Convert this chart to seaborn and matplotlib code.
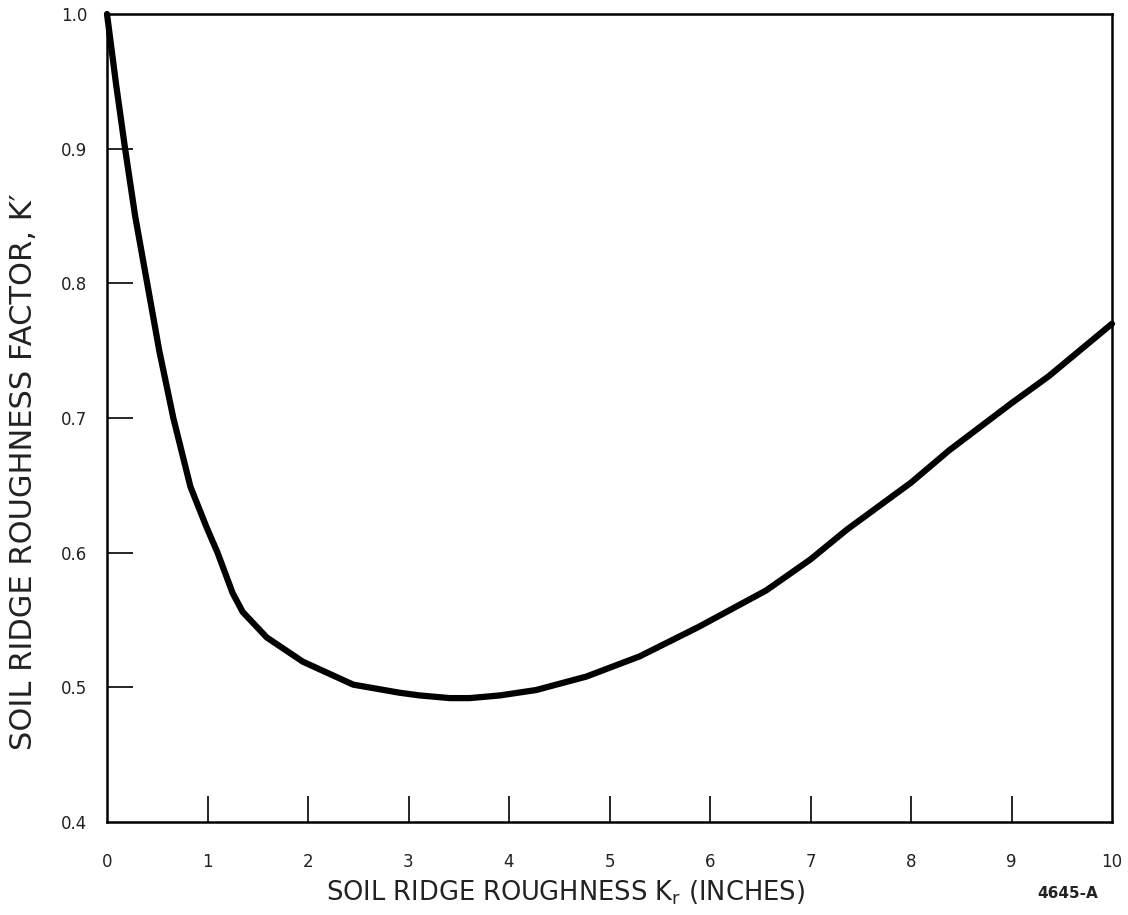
import matplotlib
matplotlib.use("Agg")
import matplotlib.pyplot as plt
import seaborn as sns
import pandas as pd

# Data
ridge_roughness = [0.0, 0.09, 0.18, 0.28, 0.40, 0.52, 0.66, 0.83, 0.99, 1.10, 1.19, 1.25,
                   1.35, 1.59, 1.95, 2.45, 2.91, 3.11, 3.41, 3.61, 3.91,
                   4.27, 4.77, 5.30, 5.89, 6.56, 7.00, 7.36, 8.00, 8.38, 9.00, 9.37, 10.0]
roughness_factor = [1.000, 0.948, 0.900, 0.850, 0.800, 0.750, 0.700, 0.649, 0.619, 0.600, 0.582, 0.570,
                    0.556, 0.537, 0.519, 0.502, 0.496, 0.494, 0.492, 0.492, 0.494,
                    0.498, 0.508, 0.523, 0.545, 0.572, 0.595, 0.617, 0.652, 0.676, 0.711, 0.731, 0.770]
x_ticks = [0, 1, 2, 3, 4, 5, 6, 7, 8, 9, 10]
y_ticks = [0.4, 0.5, 0.6, 0.7, 0.8, 0.9, 1.0]
y_tick_labels = ["0.4", "0.5", "0.6", "0.7", "0.8", "0.9", "1.0"]

df = pd.DataFrame({"x": ridge_roughness, "y": roughness_factor})

sns.set_style("white")
plt.rcParams["font.family"] = ["DejaVu Sans"]

W, H = 1128, 915
fig = plt.figure(figsize=(W / 100, H / 100), dpi=100)
ax = fig.add_axes([107 / W, 1 - 822 / H, (1112 - 107) / W, (822 - 14) / H])

sns.lineplot(data=df, x="x", y="y", ax=ax, color="black", linewidth=4.5,
             solid_capstyle="round", solid_joinstyle="round", clip_on=False)

ax.set_xlim(0, 10)
ax.set_ylim(0.4, 1.0)
ax.set_xticks(x_ticks)
ax.set_xticklabels([str(t) for t in x_ticks])
ax.set_yticks(y_ticks)
ax.set_yticklabels(y_tick_labels)
ax.tick_params(axis="both", which="major", direction="in", length=19, width=1.2,
               color="black", labelsize=12, labelcolor="#222222",
               bottom=True, left=True, top=False, right=False)
ax.tick_params(axis="x", pad=22)
ax.tick_params(axis="y", pad=14)
ax.set_xlabel("")
ax.set_ylabel("")

# no tick marks on the frame corners
xt = ax.xaxis.get_major_ticks()
xt[0].tick1line.set_visible(False)
xt[-1].tick1line.set_visible(False)
yt = ax.yaxis.get_major_ticks()
yt[0].tick1line.set_visible(False)
yt[-1].tick1line.set_visible(False)

for side in ["left", "right", "top", "bottom"]:
    ax.spines[side].set_visible(True)
    ax.spines[side].set_color("black")
    ax.spines[side].set_linewidth(1.8)

fig.text(565 / W, 1 - 893 / H, "SOIL RIDGE ROUGHNESS K$_\\mathregular{r}$ (INCHES)",
         ha="center", va="center", fontsize=18.5, color="#222222")
fig.text(24 / W, 1 - 472 / H, "SOIL RIDGE ROUGHNESS FACTOR, K\u2032",
         ha="center", va="center", rotation=90, fontsize=22, color="#222222")
fig.text(1068 / W, 1 - 893 / H, "4645-A", ha="center", va="center",
         fontsize=11, fontweight="semibold", color="#222222")

fig.savefig("out.png", dpi=100, facecolor="white")
